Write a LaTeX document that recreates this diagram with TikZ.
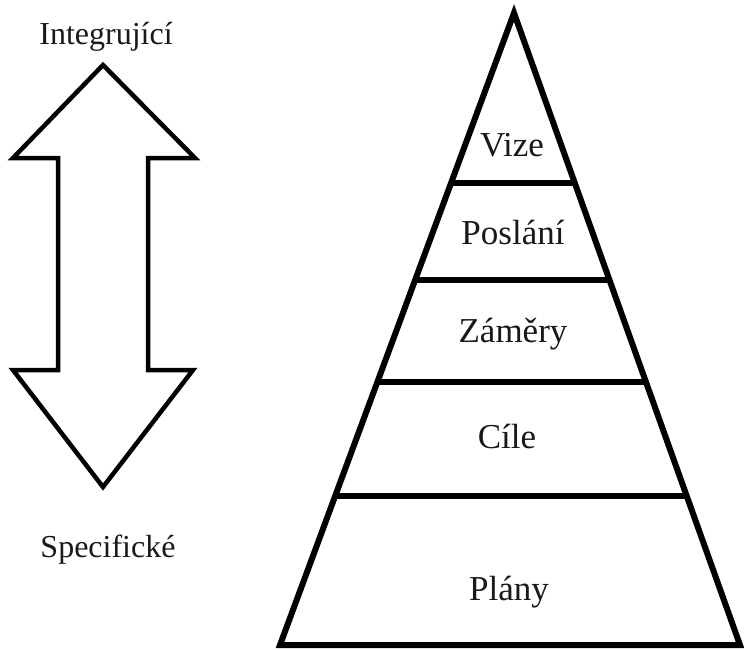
\documentclass[tikz,border=0pt]{standalone}
\usepackage{fontspec}
\setmainfont{Liberation Serif}
\usetikzlibrary{calc}
\begin{document}
\begin{tikzpicture}[x=1pt,y=-1pt,
  pyr/.style={line width=6pt,line join=miter,miter limit=20},
  arr/.style={line width=4.5pt,line join=miter,miter limit=20},
  lefttext/.style={anchor=base,font=\fontsize{32}{38}\selectfont,text=black!90},
  pyrtext/.style={anchor=base,font=\fontsize{35}{42}\selectfont,text=black!90}]
\useasboundingbox (0,0) rectangle (744,649);
\fill[white] (0,0) rectangle (744,649);
% double arrow
\draw[arr] (103,65) -- (195,158) -- (148,158) -- (148,370) -- (193,370) -- (103,487)
  -- (13,370) -- (58,370) -- (58,158) -- (13,158) -- cycle;
\node[lefttext] (integ) at (106,44) {Integrující};
\node[lefttext] (spec) at (108,557) {Specifické};
% pyramid
\coordinate (A) at (514,13);
\coordinate (L) at (280,645);
\coordinate (R) at (740,645);
\draw[pyr] (A) -- (L) -- (R) -- cycle;
\foreach \f in {0.269,0.4225,0.584,0.764}{
  \draw[line width=6pt] ($(A)!\f!(L)$) -- ($(A)!\f!(R)$);
}
\node[pyrtext] (vize) at (512,156) {Vize};
\node[pyrtext] (poslani) at (513,244) {Poslání};
\node[pyrtext] (zamery) at (513,342) {Záměry};
\node[pyrtext] (cile) at (507,448) {Cíle};
\node[pyrtext] (plany) at (509,600) {Plány};
\end{tikzpicture}
\end{document}
